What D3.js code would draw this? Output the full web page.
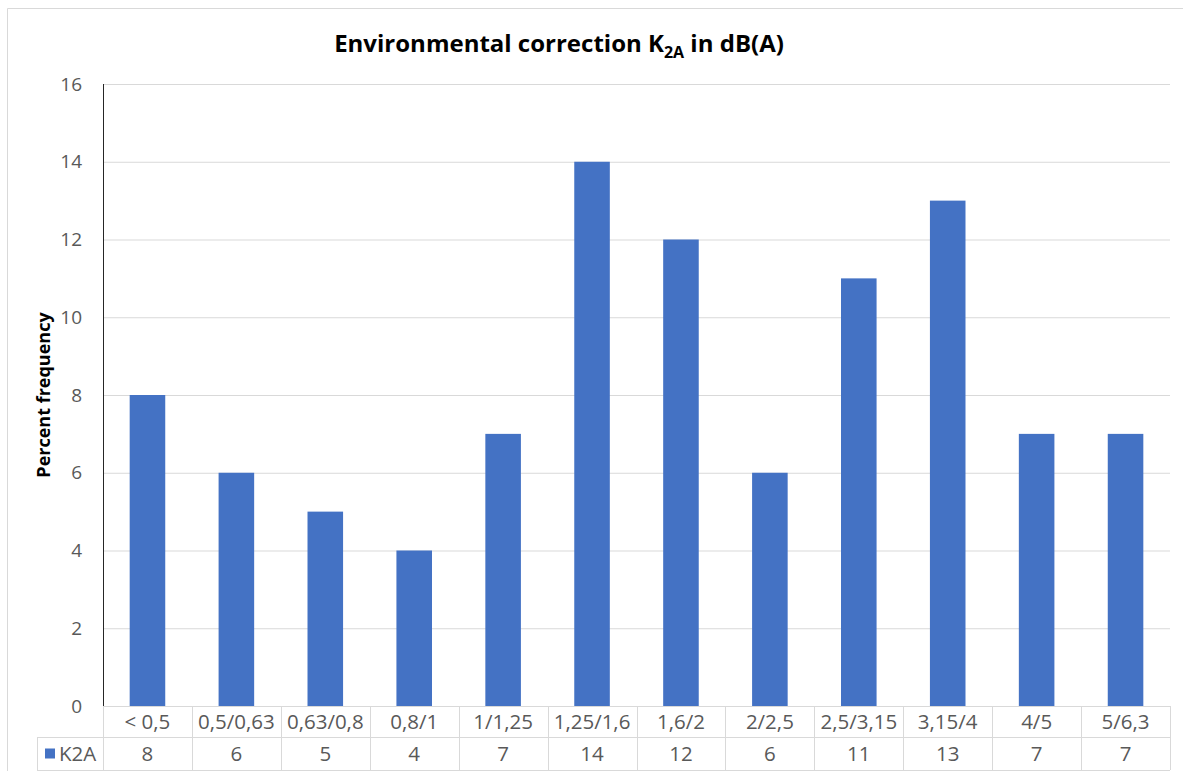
<!DOCTYPE html>
<meta charset="utf-8">
<head>
  <style>
    body { margin: 0; background: white; }
    .tick-label { font-family: "Open Sans"; font-size: 19px; fill: #595959; }
    .table-text { font-family: "Open Sans"; font-size: 20.5px; fill: #595959; }
    .title { font-family: "Open Sans"; font-weight: bold; font-size: 24px; fill: #000; }
    .axis-title { font-family: "Open Sans"; font-weight: bold; font-size: 18px; fill: #000; }
  </style>
</head>
<script src="https://d3js.org/d3.v7.min.js"></script>
<div id="my_dataviz"></div>
<script>
// chart data
const categories = ["< 0,5", "0,5/0,63", "0,63/0,8", "0,8/1", "1/1,25", "1,25/1,6",
  "1,6/2", "2/2,5", "2,5/3,15", "3,15/4", "4/5", "5/6,3"];
const values = [8, 6, 5, 4, 7, 14, 12, 6, 11, 13, 7, 7];
const yTicks = [0, 2, 4, 6, 8, 10, 12, 14, 16];
const seriesName = "K2A";

const WIDTH = 1183;
const HEIGHT = 771;
const LEFT = 103, RIGHT = 1170, TOP = 84, BOTTOM = 706;
const ROW1 = 737, ROW2 = 770;
const GRID = "#d9d9d9";
const BAR = "#4472C4";

var svg = d3.select("#my_dataviz")
  .append("svg")
  .attr("width", WIDTH)
  .attr("height", HEIGHT);

svg.append("rect").attr("width", WIDTH).attr("height", HEIGHT).attr("fill", "white");

// outer frame (cropped on right / bottom)
svg.append("path")
  .attr("d", `M7.5,${HEIGHT} V8.5 H${WIDTH}`)
  .attr("fill", "none")
  .attr("stroke", GRID);

var x = d3.scaleBand()
  .domain(categories)
  .range([LEFT, RIGHT])
  .paddingInner(0.6)
  .paddingOuter(0.3);

var y = d3.scaleLinear()
  .domain([0, 16])
  .range([BOTTOM, TOP]);

// gridlines + tick labels
var yAxis = svg.append("g")
  .attr("transform", `translate(${LEFT},0)`)
  .call(d3.axisLeft(y).tickValues(yTicks).tickSize(-(RIGHT - LEFT)).tickPadding(21));
yAxis.select(".domain").remove();
yAxis.selectAll(".tick line").attr("stroke", GRID);
yAxis.selectAll(".tick text").attr("class", "tick-label").attr("fill", null);
yAxis.attr("font-family", null).attr("font-size", null);

// bars
svg.selectAll(".bar")
  .data(values)
  .enter()
  .append("rect")
  .attr("class", "bar")
  .attr("x", (d, i) => x(categories[i]))
  .attr("width", x.bandwidth())
  .attr("y", d => y(d))
  .attr("height", d => y(0) - y(d))
  .attr("fill", BAR);

// data table
var step = x.step();
var edges = categories.map(c => x(c) - x.paddingOuter() * step);
edges.push(RIGHT);
var table = svg.append("g").attr("stroke", GRID).attr("fill", "none");
table.append("line").attr("x1", LEFT).attr("x2", RIGHT).attr("y1", BOTTOM + 0.5).attr("y2", BOTTOM + 0.5);
table.append("line").attr("x1", 37).attr("x2", RIGHT).attr("y1", ROW1 + 0.5).attr("y2", ROW1 + 0.5);
table.append("line").attr("x1", 37).attr("x2", RIGHT).attr("y1", ROW2 + 0.5).attr("y2", ROW2 + 0.5);
table.append("line").attr("x1", 37.5).attr("x2", 37.5).attr("y1", ROW1).attr("y2", ROW2);
table.selectAll(".vline")
  .data(edges)
  .enter()
  .append("line")
  .attr("x1", d => Math.round(d) + 0.5)
  .attr("x2", d => Math.round(d) + 0.5)
  .attr("y1", BOTTOM)
  .attr("y2", ROW2);

svg.selectAll(".cat")
  .data(categories)
  .enter()
  .append("text")
  .attr("class", "table-text")
  .attr("text-anchor", "middle")
  .attr("x", d => x(d) + x.bandwidth() / 2)
  .attr("y", (BOTTOM + ROW1) / 2)
  .attr("dy", "0.35em")
  .text(d => d);

svg.selectAll(".val")
  .data(values)
  .enter()
  .append("text")
  .attr("class", "table-text")
  .attr("text-anchor", "middle")
  .attr("x", (d, i) => x(categories[i]) + x.bandwidth() / 2)
  .attr("y", (ROW1 + ROW2) / 2)
  .attr("dy", "0.35em")
  .text(d => d);

// legend key in table
svg.append("rect")
  .attr("x", 45).attr("y", (ROW1 + ROW2) / 2 - 5)
  .attr("width", 10).attr("height", 10)
  .attr("fill", BAR);
svg.append("text")
  .attr("class", "table-text")
  .attr("x", 59)
  .attr("y", (ROW1 + ROW2) / 2)
  .attr("dy", "0.35em")
  .text(seriesName);

// y axis line
svg.append("line")
  .attr("x1", LEFT + 0.5).attr("x2", LEFT + 0.5)
  .attr("y1", TOP).attr("y2", BOTTOM)
  .attr("stroke", "#262626");

// titles
var title = svg.append("text")
  .attr("class", "title")
  .attr("text-anchor", "middle")
  .attr("x", 559)
  .attr("y", 52);
title.append("tspan").text("Environmental correction K");
title.append("tspan").attr("font-size", "16px").attr("dy", 6).text("2A");
title.append("tspan").attr("dy", -6).text(" in dB(A)");

svg.append("text")
  .attr("class", "axis-title")
  .attr("text-anchor", "middle")
  .attr("transform", `translate(50,${(TOP + BOTTOM) / 2}) rotate(-90)`)
  .text("Percent frequency");
</script>
